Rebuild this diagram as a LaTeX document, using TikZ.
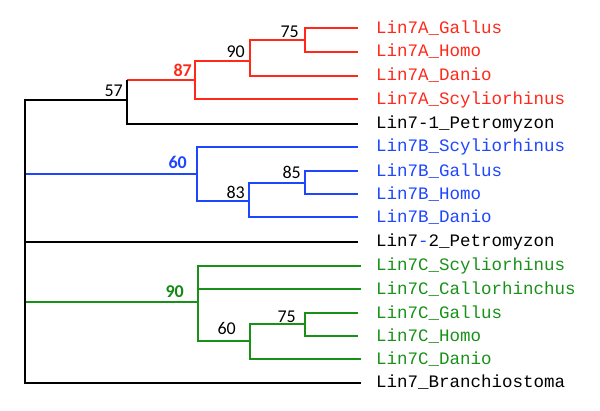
\documentclass[tikz,border=0pt]{standalone}
\usepackage{fontspec}
\setmonofont{Liberation Mono}
\newfontfamily\numfont{Carlito}
\definecolor{cred}{RGB}{255,40,25}
\definecolor{cblue}{RGB}{30,70,255}
\definecolor{cgreen}{RGB}{25,145,25}
\definecolor{cgreenb}{RGB}{20,135,20}
\tikzset{
  br/.style={line width=2pt},
  leaf/.style={anchor=base west, inner sep=0pt, font=\ttfamily\fontsize{17.5}{20}\selectfont},
  boot/.style={anchor=base east, inner sep=0pt, font=\numfont\fontsize{18}{20}\selectfont},
  bootb/.style={boot, font=\numfont\bfseries\fontsize{18}{20}\selectfont},
}
\begin{document}
\begin{tikzpicture}[x=1pt,y=-1pt]
\useasboundingbox (0,0) rectangle (600,410);
% leaf line ends
\coordinate (lA0) at (358,28.3);
\coordinate (lA1) at (358,51.9);
\coordinate (lA2) at (358,75.7);
\coordinate (lA3) at (358,99.3);
\coordinate (lP1) at (358,123.5);
\coordinate (lB5) at (358,146.5);
\coordinate (lB6) at (358,171);
\coordinate (lB7) at (358,194.3);
\coordinate (lB8) at (358,217);
\coordinate (lP2) at (358,241.5);
\coordinate (lC10) at (361,265.7);
\coordinate (lC11) at (361,289.3);
\coordinate (lC12) at (358,313);
\coordinate (lC13) at (358,336.3);
\coordinate (lC14) at (361,359);
\coordinate (lX15) at (361,382.7);
% internal nodes
\coordinate (R) at (25,100);
\coordinate (N57) at (127,100);
\coordinate (A87) at (195,80);
\coordinate (A90) at (250,61);
\coordinate (A75) at (305,40);
\coordinate (B60) at (197,174);
\coordinate (B83) at (249,201);
\coordinate (B85) at (305,183);
\coordinate (C90) at (198,302);
\coordinate (C60) at (250,341);
\coordinate (C75) at (305,324);
% red clade
\draw[br,cred] (N57 |- A87) -- (A87);
\draw[br,cred] (A87) |- (A90);
\draw[br,cred] (A87) |- (lA3);
\draw[br,cred] (A90) |- (A75);
\draw[br,cred] (A90) |- (lA2);
\draw[br,cred] (A75) |- (lA0);
\draw[br,cred] (A75) |- (lA1);
\draw[br] (N57 |- A87) -- (N57 |- lP1) -- (lP1);
% blue clade
\draw[br,cblue] (R |- B60) -- (B60);
\draw[br,cblue] (B60) |- (lB5);
\draw[br,cblue] (B60) |- (B83);
\draw[br,cblue] (B83) |- (B85);
\draw[br,cblue] (B83) |- (lB8);
\draw[br,cblue] (B85) |- (lB6);
\draw[br,cblue] (B85) |- (lB7);
% green clade
\draw[br,cgreen] (R |- C90) -- (C90);
\draw[br,cgreen] (C90) |- (lC10);
\draw[br,cgreen] (C90) |- (lC11);
\draw[br,cgreen] (C90) |- (C60);
\draw[br,cgreen] (C60) |- (C75);
\draw[br,cgreen] (C60) |- (lC14);
\draw[br,cgreen] (C75) |- (lC12);
\draw[br,cgreen] (C75) |- (lC13);
% root
\draw[br] (R |- lP2) -- (lP2);
\draw[br] (N57) -- (R) -- (R |- lX15) -- (lX15);
% leaf labels
\node[leaf,text=cred] (tA0) at (376,33.3) {Lin7A\_Gallus};
\node[leaf,text=cred] (tA1) at (376,56.9) {Lin7A\_Homo};
\node[leaf,text=cred] (tA2) at (376,80.7) {Lin7A\_Danio};
\node[leaf,text=cred] (tA3) at (376,104.3) {Lin7A\_Scyliorhinus};
\node[leaf] (tP1) at (376,128.5) {Lin7-1\_Petromyzon};
\node[leaf,text=cblue] (tB5) at (376,151.5) {Lin7B\_Scyliorhinus};
\node[leaf,text=cblue] (tB6) at (376,176) {Lin7B\_Gallus};
\node[leaf,text=cblue] (tB7) at (376,199.3) {Lin7B\_Homo};
\node[leaf,text=cblue] (tB8) at (376,222) {Lin7B\_Danio};
\node[leaf] (tP2) at (376,246.5) {Lin7\textcolor{cblue}{-}2\_Petromyzon};
\node[leaf,text=cgreen] (tC10) at (376,270.7) {Lin7C\_Scyliorhinus};
\node[leaf,text=cgreen] (tC11) at (376,294.3) {Lin7C\_Callorhinchus};
\node[leaf,text=cgreen] (tC12) at (376,318) {Lin7C\_Gallus};
\node[leaf,text=cgreen] (tC13) at (376,341.3) {Lin7C\_Homo};
\node[leaf,text=cgreen] (tC14) at (376,364) {Lin7C\_Danio};
\node[leaf] (tX15) at (376,387.7) {Lin7\_Branchiostoma};
% bootstrap values
\node[boot] (b57) at (123,96) {57};
\node[boot] (bA90) at (245,57) {90};
\node[boot] (bA75) at (299,37) {75};
\node[bootb,text=cred] (bA87) at (192,76) {87};
\node[bootb,text=cblue] (bB60) at (187,168) {60};
\node[boot] (bB83) at (245,198) {83};
\node[boot] (bB85) at (301,178) {85};
\node[bootb,text=cgreenb] (bC90) at (184,297) {90};
\node[boot] (bC60) at (236,334) {60};
\node[boot] (bC75) at (296,322) {75};
\end{tikzpicture}
\end{document}
